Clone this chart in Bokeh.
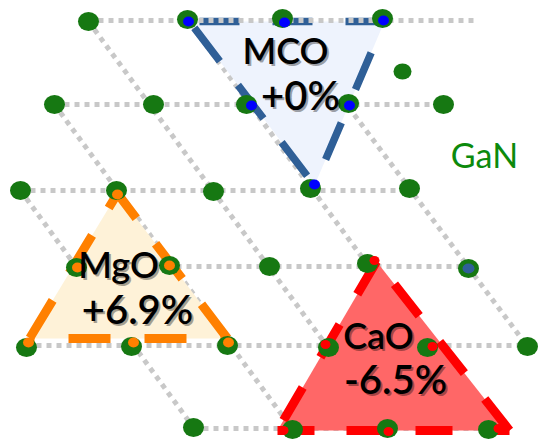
from bokeh.plotting import figure
from bokeh.models import Range1d
from bokeh.core.properties import value
from bokeh.embed import file_html
from bokeh.resources import INLINE

# ---------------- data ----------------
# GaN lattice sites (green)
gan_x = [88, 187, 282, 382, 54, 153, 246, 348, 443, 402, 20, 116, 213, 310, 409,
         76, 169, 269, 367, 468, 26, 131, 227, 328, 427, 527, 193, 292, 387, 488]
gan_y = [21, 19, 18, 18, 104, 104, 104, 103, 104, 71, 190, 190, 191, 188, 188,
         267, 265, 266, 263, 268, 347, 346, 345, 347, 347, 346, 427, 429, 428, 429]
gan_w = [21] * 9 + [18] + [21] * 20
gan_h = [19] * 9 + [16] + [19] * 20

# GaN lattice rows (horizontal grey dotted lines)
row_y = [20, 104, 190, 266, 345, 428]
row_x0 = [88, 54, 20, 76, 26, 193]
row_x1 = [478, 443, 409, 468, 527, 488]

# GaN lattice diagonals (x0, y0, x1, y1)
diag_x0 = [88, 187, 282, 54, 20]
diag_y0 = [21, 19, 18, 104, 190]
diag_x1 = [387, 488, 527, 292, 193]
diag_y1 = [428, 429, 346, 429, 427]

# MCO (+0%) triangle and sites
mco_x = [189, 384, 314]
mco_y = [21, 21, 185]
mco_site_x = [188, 284, 383, 251, 349, 314]
mco_site_y = [21, 22, 20, 105, 105, 184]
mco_extra_x = [468]
mco_extra_y = [268]

# MgO (+6.9%) triangle and sites
mgo_x = [117, 29, 227]
mgo_y = [193, 338, 338]
mgo_site_x = [117, 77, 169, 28, 133, 228]
mgo_site_y = [194, 267, 265, 342, 342, 342]

# CaO (-6.5%) triangle and sites
cao_x = [376, 277, 509]
cao_y = [261, 430, 430]
cao_site_x = [374, 325, 432, 283, 388, 498]
cao_site_y = [260, 344, 346, 430, 431, 428]

names = ["MCO", "MgO", "CaO"]
name_x = [285, 118, 378]
name_y = [63, 277, 348]
strains = ["+0%", "+6.9%", "-6.5%"]
strain_x = [300, 137, 395]
strain_y = [108, 322, 392]

host_label = "GaN"
host_x = 484
host_y = 168

# ---------------- figure ----------------
W, H = 539, 439
p = figure(width=W, height=H, output_backend="svg", toolbar_location=None,
           x_range=Range1d(0, W), y_range=Range1d(H, 0),
           min_border=0, background_fill_color="white", border_fill_color="white")
p.axis.visible = False
p.grid.visible = False
p.outline_line_color = None

GREY = "#c8c8c8"
GREEN = "#167812"


def grey_line(x0, y0, x1, y1):
    p.line([x0, x1], [y0, y1], line_color=GREY, line_width=5, line_dash="5 5")


# grey lattice lines (top row later, it sits above the MCO outline)
for i in range(1, len(row_y)):
    grey_line(row_x0[i], row_y[i], row_x1[i], row_y[i])
for i in range(len(diag_x0)):
    grey_line(diag_x0[i], diag_y0[i], diag_x1[i], diag_y1[i])

# triangle fills
p.patch(mco_x, mco_y, fill_color="#eef3fd", line_color=None)
p.patch(mgo_x, mgo_y, fill_color="#fef2d8", line_color=None)
p.patch(cao_x, cao_y, fill_color="#ff6767", line_color=None)


def edge(xs, ys, a, b, color, width, dash, offset):
    p.line([xs[a], xs[b]], [ys[a], ys[b]], line_color=color, line_width=width,
           line_dash=dash, line_dash_offset=offset)


# dashed outlines
BLUE_E = "#2f5f97"
edge(mco_x, mco_y, 0, 1, BLUE_E, 7.5, "40 33", 63)
edge(mco_x, mco_y, 0, 2, BLUE_E, 7.5, "42 30", 64)
edge(mco_x, mco_y, 1, 2, BLUE_E, 7.5, "40 36", 42)

ORANGE = "#ff8000"
edge(mgo_x, mgo_y, 0, 2, ORANGE, 9, "44 32", 13)
edge(mgo_x, mgo_y, 0, 1, ORANGE, 9, "44 32", 27)
edge(mgo_x, mgo_y, 1, 2, ORANGE, 9, "42 34", 37)

RED = "#ff0000"
edge(cao_x, cao_y, 0, 1, RED, 9, "38 35", 0)
edge(cao_x, cao_y, 1, 2, RED, 9, "37 32", 0)
edge(cao_x, cao_y, 2, 0, RED, 9, "40 33", 0)

grey_line(row_x0[0], row_y[0], row_x1[0], row_y[0])

# GaN sites
p.ellipse(gan_x, gan_y, width=gan_w, height=gan_h, fill_color=GREEN, line_color=None)

# overlayer sites
p.ellipse(mco_extra_x, mco_extra_y, width=12, height=10, fill_color=BLUE_E, line_color=None)
p.ellipse(mco_site_x, mco_site_y, width=11, height=10, fill_color="#0000ff", line_color=None)
p.ellipse(mgo_site_x, mgo_site_y, width=11, height=10, fill_color=ORANGE, line_color=None)
p.ellipse(cao_site_x, cao_site_y, width=10, height=9, fill_color=RED, line_color=None)

FONT = value("Lato Semibold, Lato")
DY = -14


# labels with soft shadow
def label(xs, ys, texts, size):
    p.text(xs, ys, text=texts, x_offset=2, y_offset=DY + 2,
           text_font=FONT, text_font_size=size, text_align="center",
           text_baseline="alphabetic", text_color="#000000", text_alpha=0.35)
    p.text(xs, ys, text=texts, y_offset=DY,
           text_font=FONT, text_font_size=size, text_align="center",
           text_baseline="alphabetic", text_color="#000000")


label(name_x, name_y, names, "36px")
label(strain_x, strain_y, strains, "40px")

p.text([host_x], [host_y], text=[host_label], y_offset=DY,
       text_font=value("Lato"), text_font_size="34px", text_align="center",
       text_baseline="alphabetic", text_color="#0c8a0c")

open("out.html", "w").write(file_html(p, INLINE))
